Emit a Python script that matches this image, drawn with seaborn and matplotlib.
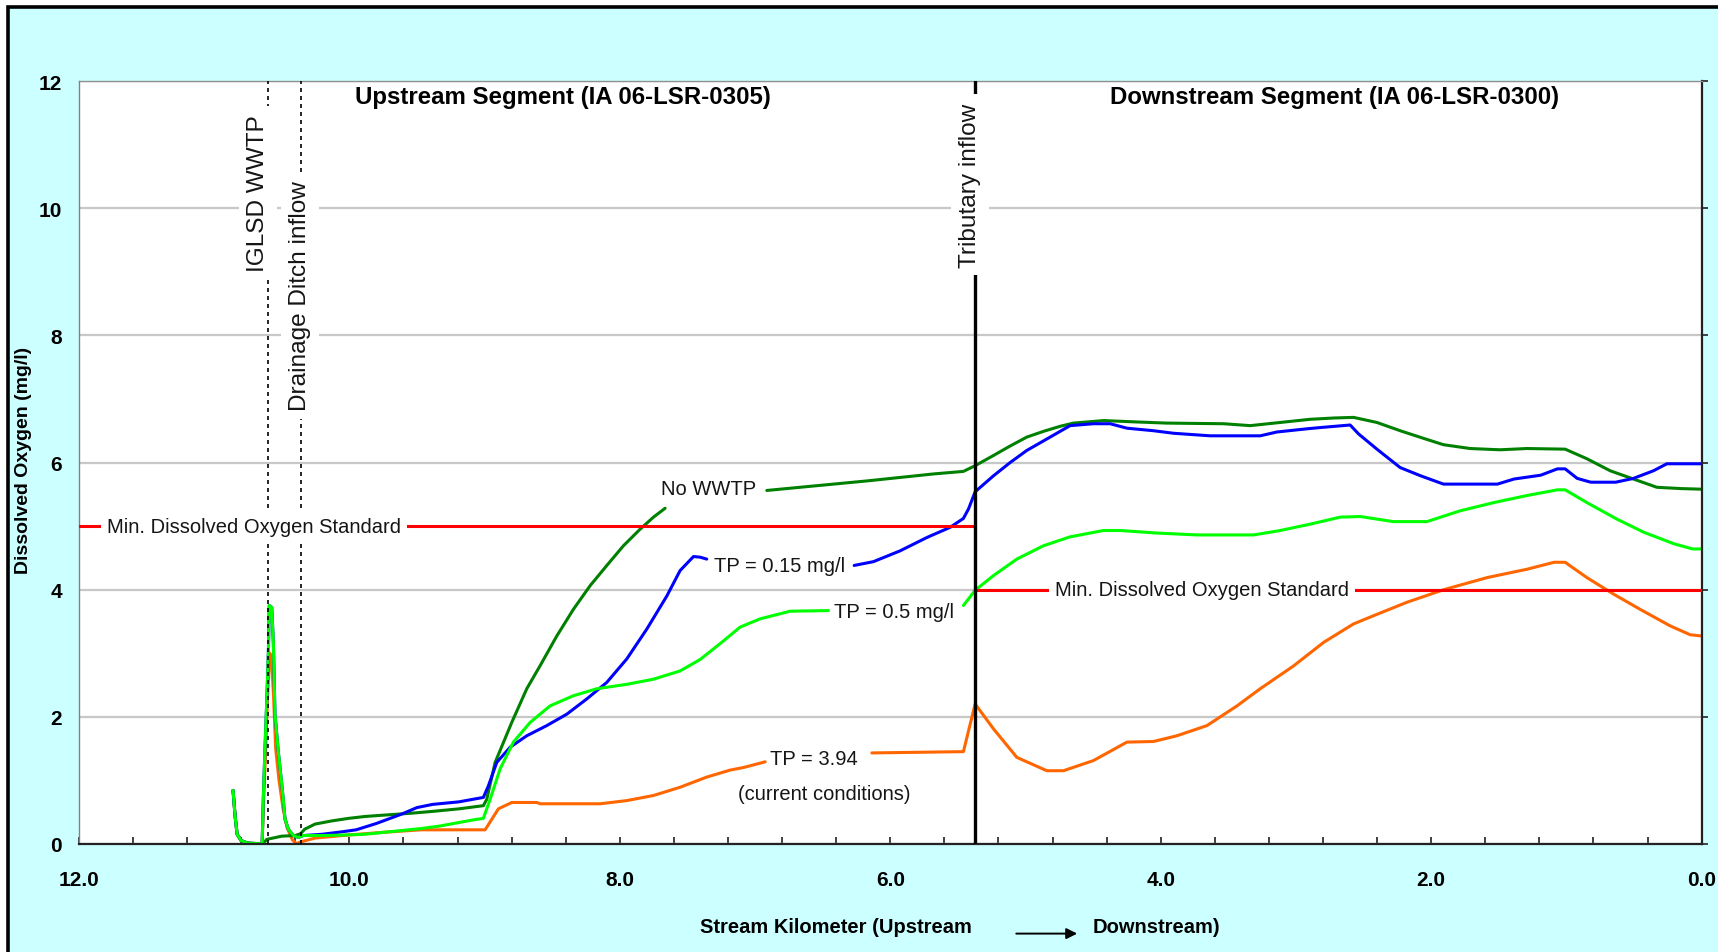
import numpy as np
import pandas as pd
import matplotlib
matplotlib.use("Agg")
import matplotlib.pyplot as plt
import seaborn as sns
from matplotlib.patches import Rectangle, FancyArrowPatch
from matplotlib.ticker import FixedLocator, FuncFormatter

# ---------------------------------------------------------------- data
nan = np.nan

# No WWTP scenario (stream km, dissolved oxygen mg/l); nan = break behind label
no_wwtp_km = [10.86, 10.845, 10.83, 10.80, 10.75, 10.64, 10.61, 10.50, 10.40, 10.36,
              10.33, 10.254, 10.13, 10.007, 9.884, 9.753, 9.55, 9.385, 9.19, 9.009,
              8.984, 8.922, 8.799, 8.688, 8.59, 8.466, 8.343, 8.22, 8.096, 7.973,
              7.85, 7.751, 7.665, nan, 6.913, 6.667, 6.173, 5.68, 5.459, 5.372,
              5.237, 5.113, 4.99, 4.867, 4.743, 4.645, 4.423, 4.201, 3.954, 3.535,
              3.338, 3.116, 2.894, 2.722, 2.574, 2.401, 2.229, 2.056, 1.909, 1.712,
              1.49, 1.292, 1.009, 0.849, 0.676, 0.504, 0.331, 0.159, 0.0]
no_wwtp_do = [0.84, 0.44, 0.15, 0.05, 0.01, 0.0, 0.07, 0.12, 0.13, 0.16,
              0.23, 0.31, 0.36, 0.40, 0.43, 0.45, 0.48, 0.51, 0.55, 0.60,
              0.70, 1.28, 1.91, 2.44, 2.80, 3.27, 3.69, 4.06, 4.38, 4.69,
              4.95, 5.14, 5.28, nan, 5.56, 5.61, 5.71, 5.82, 5.86, 5.95,
              6.11, 6.26, 6.40, 6.49, 6.57, 6.62, 6.66, 6.64, 6.62, 6.61,
              6.58, 6.63, 6.68, 6.70, 6.71, 6.63, 6.50, 6.38, 6.28, 6.22,
              6.20, 6.22, 6.21, 6.06, 5.87, 5.74, 5.61, 5.59, 5.58]

# TP = 0.15 mg/l scenario
tp015_km = [10.86, 10.845, 10.83, 10.80, 10.75, 10.645, 10.636, 10.624, 10.611, 10.599,
            10.592, 10.574, 10.562, 10.55, 10.525, 10.50, 10.488, 10.476, 10.451, 10.414,
            10.377, 10.34, 10.20, 10.05, 9.95, 9.80, 9.61, 9.50, 9.385, 9.19,
            9.009, 8.972, 8.910, 8.811, 8.688, 8.54, 8.392, 8.244, 8.096, 7.948,
            7.80, 7.652, 7.554, 7.455, 7.406, 7.357, nan, 6.267, 6.124, 5.927,
            5.729, 5.557, 5.459, 5.421, 5.372, 5.237, 5.113, 4.99, 4.842, 4.67,
            4.497, 4.374, 4.25, 4.053, 3.905, 3.634, 3.264, 3.141, 2.919, 2.82,
            2.599, 2.537, 2.401, 2.229, 2.077, 1.909, 1.51, 1.387, 1.19, 1.066,
            1.009, 0.92, 0.82, 0.635, 0.504, 0.356, 0.257, 0.0]
tp015_do = [0.84, 0.44, 0.15, 0.05, 0.01, 0.0, 0.73, 1.49, 2.23, 2.99,
            3.75, 3.72, 3.17, 2.04, 1.44, 0.94, 0.68, 0.39, 0.23, 0.13,
            0.10, 0.13, 0.15, 0.19, 0.22, 0.32, 0.47, 0.57, 0.62, 0.66,
            0.73, 0.91, 1.28, 1.52, 1.70, 1.86, 2.04, 2.28, 2.54, 2.91,
            3.38, 3.90, 4.30, 4.52, 4.51, 4.48, nan, 4.38, 4.44, 4.61,
            4.82, 4.98, 5.12, 5.27, 5.54, 5.79, 6.00, 6.19, 6.37, 6.58,
            6.61, 6.61, 6.54, 6.50, 6.46, 6.42, 6.42, 6.48, 6.53, 6.55,
            6.59, 6.45, 6.21, 5.92, 5.79, 5.66, 5.66, 5.74, 5.80, 5.90,
            5.90, 5.75, 5.69, 5.69, 5.75, 5.87, 5.98, 5.98]

# TP = 0.5 mg/l scenario
tp05_km = [10.86, 10.845, 10.83, 10.80, 10.75, 10.645, 10.636, 10.624, 10.611, 10.599,
           10.592, 10.574, 10.562, 10.55, 10.525, 10.50, 10.488, 10.476, 10.451, 10.414,
           10.377, 10.34, 10.20, 10.0, 9.884, 9.70, 9.47, 9.33, 9.073, 9.009,
           8.959, 8.885, 8.787, 8.663, 8.516, 8.343, 8.17, 7.948, 7.751, 7.554,
           7.406, 7.258, 7.11, 6.962, 6.74, 6.457, nan, 5.459, 5.372, 5.237,
           5.064, 4.867, 4.67, 4.423, 4.30, 4.028, 3.732, 3.313, 3.116, 2.894,
           2.673, 2.525, 2.28, 2.031, 1.785, 1.535, 1.292, 1.066, 1.009, 0.849,
           0.627, 0.425, 0.203, 0.067, 0.0]
tp05_do = [0.84, 0.44, 0.15, 0.05, 0.01, 0.0, 0.73, 1.49, 2.23, 2.99,
           3.75, 3.72, 3.17, 2.04, 1.44, 0.94, 0.68, 0.39, 0.23, 0.13,
           0.10, 0.13, 0.13, 0.14, 0.15, 0.19, 0.24, 0.28, 0.38, 0.40,
           0.70, 1.18, 1.60, 1.91, 2.17, 2.33, 2.44, 2.51, 2.59, 2.72,
           2.90, 3.15, 3.41, 3.54, 3.66, 3.67, nan, 3.75, 3.99, 4.22,
           4.48, 4.69, 4.83, 4.93, 4.93, 4.89, 4.86, 4.86, 4.93, 5.03,
           5.14, 5.15, 5.07, 5.07, 5.24, 5.37, 5.48, 5.57, 5.57, 5.37,
           5.11, 4.90, 4.72, 4.64, 4.64]

# TP = 3.94 mg/l (current conditions)
tp394_km = [10.86, 10.845, 10.83, 10.80, 10.75, 10.645, 10.636, 10.62, 10.605, 10.588,
            10.575, 10.56, 10.545, 10.52, 10.49, 10.46, 10.42, 10.39, 10.36, 10.254,
            10.0, 9.753, 9.47, 9.009, 8.996, 8.898, 8.799, 8.614, 8.589, 8.145,
            7.948, 7.751, 7.554, 7.357, 7.184, 7.086, 6.925, nan, 6.136, 5.459,
            5.372, 5.237, 5.064, 4.842, 4.719, 4.497, 4.25, 4.053, 3.88, 3.658,
            3.436, 3.264, 3.017, 2.795, 2.574, 2.425, 2.18, 1.905, 1.584, 1.292,
            1.091, 1.009, 0.849, 0.652, 0.455, 0.233, 0.085, 0.0]
tp394_do = [0.84, 0.44, 0.15, 0.05, 0.01, 0.0, 0.6, 1.4, 2.3, 3.0,
            2.9, 2.3, 1.5, 1.0, 0.55, 0.25, 0.06, 0.0, 0.03, 0.09,
            0.14, 0.18, 0.22, 0.22, 0.22, 0.55, 0.65, 0.65, 0.63, 0.63,
            0.68, 0.76, 0.89, 1.05, 1.16, 1.20, 1.29, nan, 1.43, 1.45,
            2.20, 1.81, 1.36, 1.15, 1.15, 1.31, 1.60, 1.61, 1.70, 1.86,
            2.17, 2.44, 2.80, 3.17, 3.46, 3.59, 3.80, 4.00, 4.19, 4.32,
            4.43, 4.43, 4.19, 3.93, 3.69, 3.43, 3.29, 3.27]

# Minimum dissolved oxygen standard (5 mg/l upstream, 4 mg/l downstream)
std_km = [12.0, 5.37, 5.37, 0.0]
std_do = [5.0, 5.0, 4.0, 4.0]

# Reference locations along the stream
wwtp_km = 10.60
ditch_km = 10.36
trib_km = 5.37

x_ticks = np.round(np.arange(0, 12.001, 0.4), 1)
y_ticks = [0, 2, 4, 6, 8, 10, 12]


def to_frame(km, do):
    df = pd.DataFrame({"km": km, "do": do})
    df["seg"] = df["km"].isna().cumsum()
    return df.dropna()


# ---------------------------------------------------------------- figure
sns.set_style("white")
plt.rcParams["font.family"] = ["Liberation Sans", "DejaVu Sans"]
plt.rcParams["text.color"] = "black"
plt.rcParams["xtick.labelcolor"] = "black"
plt.rcParams["ytick.labelcolor"] = "black"

W, H = 1718, 953
fig = plt.figure(figsize=(W / 100, H / 100), dpi=100, facecolor="white")
panel = Rectangle((7.5 / W, -0.1), 1.2, (H - 8.3) / H + 0.1,
                  transform=fig.transFigure, facecolor="#CCFFFF",
                  edgecolor="black", linewidth=2.6, zorder=-10)
fig.patches.append(panel)

ax = fig.add_axes([78.9 / W, (H - 844.8) / H, (1701.6 - 78.9) / W, (844.8 - 82.2) / H])
ax.set_zorder(1)
ax.set_facecolor("white")

series = [
    (tp394_km, tp394_do, "#FF6600"),
    (no_wwtp_km, no_wwtp_do, "#008000"),
    (tp015_km, tp015_do, "#0000FF"),
    (tp05_km, tp05_do, "#00FF00"),
]
for i, (km, do, col) in enumerate(series):
    d = to_frame(km, do)
    sns.lineplot(data=d, x="km", y="do", units="seg", estimator=None, sort=False,
                 color=col, linewidth=2.2, legend=False, ax=ax, zorder=2 + i * 0.1)

# standard line
ax.plot(std_km, std_do, color="#FF0000", lw=2.2, zorder=3.5)

# reference verticals
ax.axvline(wwtp_km, color="black", lw=1.2, ls=(0, (2.4, 2.4)), zorder=3)
ax.axvline(ditch_km, color="black", lw=1.2, ls=(0, (2.4, 2.4)), zorder=3)
ax.axvline(trib_km, color="black", lw=2.4, zorder=4)

ax.set_xlim(12, 0)
ax.set_ylim(0, 12)
ax.set_xlabel("")
ax.set_ylabel("")

# grid and axes styling
ax.yaxis.grid(True, color="#C8C8C8", lw=1.6)
ax.xaxis.grid(False)
ax.set_axisbelow(True)
for side, col, lw in [("left", "#808080", 1.0), ("top", "#909090", 1.0),
                      ("bottom", "#222222", 1.6), ("right", "#222222", 1.6)]:
    ax.spines[side].set_visible(True)
    ax.spines[side].set_color(col)
    ax.spines[side].set_linewidth(lw)

ax.xaxis.set_major_locator(FixedLocator(x_ticks))
ax.xaxis.set_major_formatter(FuncFormatter(
    lambda v, p: f"{v:.1f}" if abs(v / 2 - round(v / 2)) < 1e-6 else ""))
ax.tick_params(axis="x", which="both", bottom=True, top=False, direction="in",
               length=5, width=1.3, color="#333333", pad=19,
               labelsize=15, labelcolor="black")
ax.yaxis.set_major_locator(FixedLocator(y_ticks))
ax.tick_params(axis="y", which="both", left=False, right=True, direction="out",
               length=4, width=1.3, color="#333333", pad=8,
               labelleft=True, labelright=False, labelsize=15, labelcolor="black")
for lab in ax.get_xticklabels() + ax.get_yticklabels():
    lab.set_fontweight("bold")

# annotations
box = dict(facecolor="white", edgecolor="none", pad=4)
vbox = dict(facecolor="white", edgecolor="none", pad=6)
txt = "#151515"

ax.text(8.42, 11.76, "Upstream Segment (IA 06-LSR-0305)", ha="center", va="center",
        fontsize=17.3, fontweight="bold", color="black", zorder=6)
ax.text(2.712, 11.76, "Downstream Segment (IA 06-LSR-0300)", ha="center", va="center",
        fontsize=17.3, fontweight="bold", color="black", zorder=6)

ax.text(10.675, 10.24, "IGLSD WWTP", rotation=90, ha="center", va="center",
        fontsize=17.6, color=txt, bbox=vbox, zorder=6)
ax.text(10.365, 8.63, "Drainage Ditch inflow", rotation=90, ha="center", va="center",
        fontsize=17.6, color=txt, bbox=vbox, zorder=6)
ax.text(5.409, 10.37, "Tributary inflow", rotation=90, ha="center", va="center",
        fontsize=17.6, color=txt, bbox=vbox, zorder=6)

ax.text(10.705, 5.0, "Min. Dissolved Oxygen Standard", ha="center", va="center",
        fontsize=14.5, color=txt, bbox=box, zorder=6)
ax.text(3.694, 4.0, "Min. Dissolved Oxygen Standard", ha="center", va="center",
        fontsize=14.5, color=txt, bbox=box, zorder=6)

ax.text(7.34, 5.59, "No WWTP", ha="center", va="center", fontsize=14.5, color=txt, zorder=6)
ax.text(6.822, 4.38, "TP = 0.15 mg/l", ha="center", va="center", fontsize=14.5, color=txt, zorder=6)
ax.text(5.971, 3.66, "TP = 0.5 mg/l", ha="center", va="center", fontsize=14.5, color=txt, zorder=6)
ax.text(6.563, 1.345, "TP = 3.94", ha="center", va="center", fontsize=14.5, color=txt, zorder=6)
ax.text(6.49, 0.79, "(current conditions)", ha="center", va="center", fontsize=14.5, color=txt, zorder=6)

# axis titles
fig.text(24 / W, (H - 460) / H, "Dissolved Oxygen (mg/l)", rotation=90, ha="center",
         va="center", fontsize=14, fontweight="bold", color="black")
fig.text(836 / W, (H - 928) / H, "Stream Kilometer (Upstream", ha="center", va="center",
         fontsize=14.5, fontweight="bold", color="black")
fig.text(1156.5 / W, (H - 928) / H, "Downstream)", ha="center", va="center",
         fontsize=14.5, fontweight="bold", color="black")
fig.add_artist(FancyArrowPatch(
    (1013.5 / W, (H - 934.6) / H), (1080 / W, (H - 934.6) / H),
    transform=fig.transFigure, arrowstyle="-|>", mutation_scale=16,
    color="black", lw=1.4))

fig.savefig("out.png", dpi=100, facecolor="white")
